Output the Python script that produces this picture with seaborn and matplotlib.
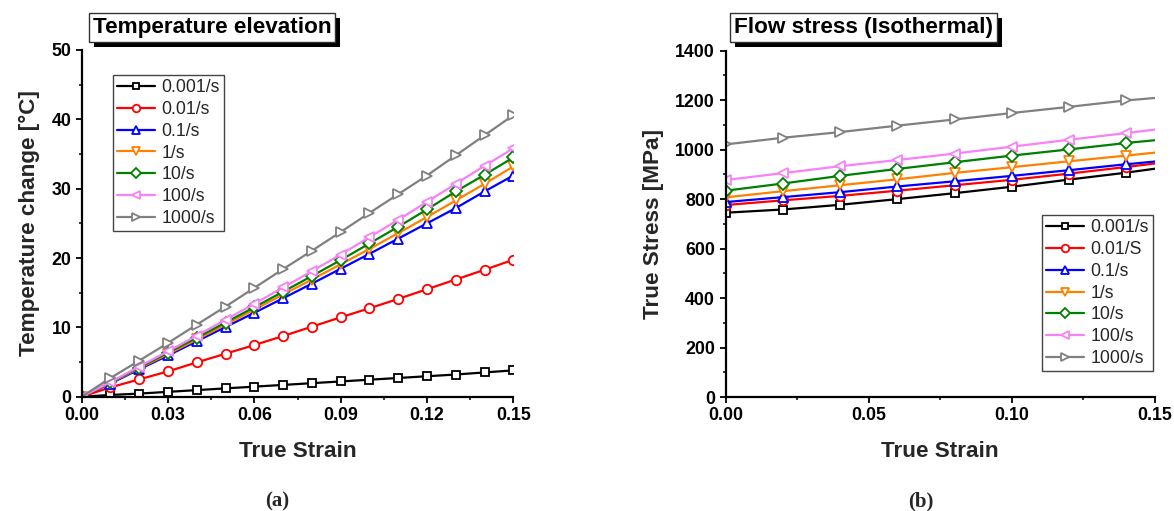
import numpy as np
import pandas as pd
import matplotlib
matplotlib.use("Agg")
import matplotlib.pyplot as plt
from matplotlib.ticker import MultipleLocator, FormatStrFormatter
from matplotlib.patches import Rectangle
import seaborn as sns

# ---------------- data ----------------
rate_labels_a = ["0.001/s", "0.01/s", "0.1/s", "1/s", "10/s", "100/s", "1000/s"]
rate_labels_b = ["0.001/s", "0.01/S", "0.1/s", "1/s", "10/s", "100/s", "1000/s"]

strain_a = [0.00, 0.01, 0.02, 0.03, 0.04, 0.05, 0.06, 0.07, 0.08,
            0.09, 0.10, 0.11, 0.12, 0.13, 0.14, 0.15]
temp_0001 = [0, 0.25, 0.45, 0.7, 0.95, 1.2, 1.45, 1.7, 1.95, 2.2, 2.45, 2.7, 2.95, 3.2, 3.5, 3.8]
temp_001 = [0, 1.35, 2.5, 3.65, 4.95, 6.2, 7.45, 8.75, 10.1, 11.45, 12.75, 14.1, 15.5, 16.9, 18.3, 19.75]
temp_01 = [0, 1.9, 3.95, 5.95, 8.0, 10.05, 12.1, 14.2, 16.3, 18.45, 20.6, 22.8, 25.0, 27.2, 29.6, 31.9]
temp_1 = [0, 2.0, 4.1, 6.15, 8.25, 10.4, 12.55, 14.75, 16.9, 19.1, 21.3, 23.6, 25.9, 28.3, 30.7, 33.2]
temp_10 = [0, 2.05, 4.2, 6.35, 8.5, 10.7, 12.9, 15.15, 17.4, 19.7, 22.1, 24.5, 27.0, 29.6, 32.0, 34.5]
temp_100 = [0, 2.1, 4.35, 6.55, 8.8, 11.1, 13.4, 15.75, 18.1, 20.5, 23.0, 25.5, 28.1, 30.7, 33.3, 35.8]
temp_1000 = [0, 2.7, 5.2, 7.75, 10.4, 13.0, 15.7, 18.4, 21.05, 23.75, 26.5, 29.2, 31.9, 34.8, 37.7, 40.6]

strain_b = [0.00, 0.02, 0.04, 0.06, 0.08, 0.10, 0.12, 0.14, 0.15]
stress_0001 = [745, 758, 777, 800, 824, 850, 879, 907, 923]
stress_001 = [776, 795, 813, 834, 856, 878, 903, 930, 944]
stress_01 = [788, 808, 828, 851, 872, 894, 917, 941, 952]
stress_1 = [807, 832, 856, 880, 906, 929, 953, 976, 988]
stress_10 = [834, 863, 894, 922, 949, 976, 1001, 1027, 1038]
stress_100 = [877, 905, 933, 958, 984, 1012, 1040, 1067, 1081]
stress_1000 = [1021, 1048, 1071, 1097, 1122, 1148, 1173, 1199, 1209]

temps = [temp_0001, temp_001, temp_01, temp_1, temp_10, temp_100, temp_1000]
stresses = [stress_0001, stress_001, stress_01, stress_1, stress_10, stress_100, stress_1000]

colors = ["#000000", "#FF0000", "#0000FF", "#FF8000", "#008000", "#F880F8", "#808080"]
markers = ["s", "o", "^", "v", "D", "<", ">"]
msizes = [5.8, 6.8, 6.8, 6.8, 5.8, 6.8, 6.8]

# ---------------- style ----------------
sns.set_style("ticks")
plt.rcParams["font.family"] = ["Liberation Sans", "DejaVu Sans"]
plt.rcParams["axes.linewidth"] = 1.6
plt.rcParams["xtick.major.width"] = 1.3
plt.rcParams["ytick.major.width"] = 1.3
plt.rcParams["xtick.minor.width"] = 1.1
plt.rcParams["ytick.minor.width"] = 1.1
plt.rcParams["xtick.major.size"] = 4.5
plt.rcParams["ytick.major.size"] = 4.5
plt.rcParams["xtick.minor.size"] = 2.5
plt.rcParams["ytick.minor.size"] = 2.5
plt.rcParams["xtick.direction"] = "out"
plt.rcParams["ytick.direction"] = "out"
plt.rcParams["xtick.color"] = "black"
plt.rcParams["ytick.color"] = "black"
plt.rcParams["axes.edgecolor"] = "black"

W, H = 1174, 511
fig = plt.figure(figsize=(W / 100, H / 100), dpi=100)

def frac_box(x0, x1, ytop, ybot):
    return [x0 / W, 1 - ybot / H, (x1 - x0) / W, (ybot - ytop) / H]

ax1 = fig.add_axes(frac_box(81.7, 513.3, 50.0, 396.7))
ax2 = fig.add_axes(frac_box(725.5, 1155.0, 50.7, 397.0))

tick_fs = 12.8
label_fs = 16.2
legend_fs = 12.7

def draw(ax, x, series, labels, markevery):
    for vals, lab, c, m, ms in zip(series, labels, colors, markers, msizes):
        df = pd.DataFrame({"strain": x, "val": vals})
        sns.lineplot(data=df, x="strain", y="val", ax=ax, color=c, linewidth=1.6,
                     marker=m, markersize=ms, markerfacecolor="white",
                     markeredgecolor=c, markeredgewidth=1.3, label=lab,
                     markevery=markevery, clip_on=True)

draw(ax1, strain_a, temps, rate_labels_a, None)
draw(ax2, strain_b, stresses, rate_labels_b, list(range(len(strain_b) - 1)))

# axes formatting
ax1.set_xlim(0, 0.15)
ax1.set_ylim(0, 50)
ax1.xaxis.set_major_locator(MultipleLocator(0.03))
ax1.xaxis.set_minor_locator(MultipleLocator(0.015))
ax1.yaxis.set_major_locator(MultipleLocator(10))
ax1.yaxis.set_minor_locator(MultipleLocator(5))
ax1.xaxis.set_major_formatter(FormatStrFormatter("%.2f"))

ax2.set_xlim(0, 0.15)
ax2.set_ylim(0, 1400)
ax2.xaxis.set_major_locator(MultipleLocator(0.05))
ax2.xaxis.set_minor_locator(MultipleLocator(0.025))
ax2.yaxis.set_major_locator(MultipleLocator(200))
ax2.yaxis.set_minor_locator(MultipleLocator(100))
ax2.xaxis.set_major_formatter(FormatStrFormatter("%.2f"))

for ax, ylab in [(ax1, "Temperature change [\u00b0C]"), (ax2, "True Stress [MPa]")]:
    sns.despine(ax=ax)
    ax.set_xlabel("True Strain", fontsize=label_fs, fontweight="bold", labelpad=12)
    ax.set_ylabel(ylab, fontsize=label_fs, fontweight="bold", labelpad=8)
    ax.tick_params(axis="both", which="major", labelsize=tick_fs, pad=3)
    for t in ax.get_xticklabels() + ax.get_yticklabels():
        t.set_fontweight("bold")

leg_kw = dict(fontsize=legend_fs, frameon=True, fancybox=False, framealpha=1,
              edgecolor="#444444", handlelength=2.15, handletextpad=0.35,
              labelspacing=0.27, borderpad=0.25, borderaxespad=0, markerscale=0.8)
leg1 = ax1.legend(loc="upper left", bbox_to_anchor=(0.0725, 0.928), **leg_kw)
leg2 = ax2.legend(loc="upper right", bbox_to_anchor=(0.9953, 0.5256), **leg_kw)
for leg in (leg1, leg2):
    leg.get_frame().set_linewidth(1.0)

# boxed titles with drop shadow
title_texts = []
def boxed_title(cx, cy, text):
    t = fig.text(cx / W, 1 - cy / H, text, ha="center", va="center",
                 fontsize=label_fs, fontweight="bold", color="black", zorder=5,
                 bbox=dict(boxstyle="square,pad=0.18", facecolor="white",
                           edgecolor="#333333", linewidth=1))
    title_texts.append(t)

boxed_title(212, 27.5, "Temperature elevation")
boxed_title(863.5, 27.5, "Flow stress (Isothermal)")

fig.canvas.draw()
renderer = fig.canvas.get_renderer()
for t in title_texts:
    ext = t.get_bbox_patch().get_window_extent(renderer)
    off = 5
    fig.patches.append(Rectangle(((ext.x0 + off) / W, (ext.y0 - off) / H),
                                 ext.width / W, ext.height / H,
                                 transform=fig.transFigure, figure=fig,
                                 facecolor="black", edgecolor="none", zorder=1))

# captions
for cx, lab in [(277, "a"), (921, "b")]:
    fig.text(cx / W, 1 - 501.7 / H, "(" + lab + ")", ha="center", va="center",
             fontsize=15, family=["Liberation Serif", "DejaVu Serif"], fontweight="bold")

fig.savefig("out.png", dpi=100)
